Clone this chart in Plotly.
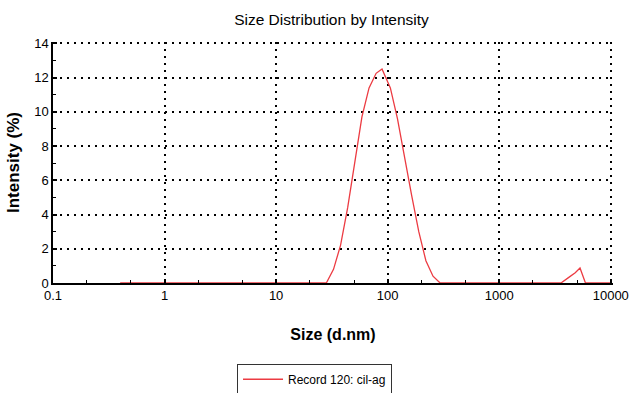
import plotly.graph_objects as go

# Data
size_nm = [0.4, 1.0, 10.0, 28.2, 32.7, 37.8, 43.8, 50.7, 58.8, 68.1, 78.8, 89.0, 105.7,
           122.4, 141.8, 164.2, 190.1, 220.2, 255.0, 295.3, 1000.0, 3580.0, 4145.0,
           4801.0, 5300.0, 5930.0, 10000.0]
intensity = [0.0, 0.0, 0.0, 0.0, 0.8, 2.2, 4.4, 6.9, 9.7, 11.4, 12.25, 12.5, 11.4,
             9.6, 7.3, 5.1, 3.0, 1.3, 0.4, 0.0, 0.0, 0.0, 0.3,
             0.6, 0.88, 0.0, 0.0]
x_ticks = [0.1, 1, 10, 100, 1000, 10000]
x_ticktext = ["0.1", "1", "10", "100", "1000", "10000"]
y_ticks = [0, 2, 4, 6, 8, 10, 12, 14]

FONT = "Liberation Sans Narrow, Liberation Sans, Arial, sans-serif"

fig = go.Figure()
fig.add_trace(go.Scatter(
    x=size_nm, y=intensity, mode="lines",
    line=dict(color="#ec3b42", width=1.3),
    name="Record 120: cil-ag", showlegend=True,
))

fig.update_layout(
    width=629, height=393,
    margin=dict(l=53, r=16, t=42, b=110, autoexpand=False),
    paper_bgcolor="white", plot_bgcolor="white",
    font=dict(family=FONT, color="black", size=13),
    title=dict(text="Size Distribution by Intensity", x=0.527, xanchor="center",
               y=0.95, yanchor="middle", font=dict(size=15.5, family=FONT)),
    showlegend=True,
    legend=dict(x=0.467, xanchor="center", y=-0.335, yanchor="top",
                bordercolor="#333333", borderwidth=1, bgcolor="white",
                font=dict(size=12, family=FONT), itemwidth=40,
                tracegroupgap=0),
)

fig.update_xaxes(
    type="log", range=[-1, 4.02],
    tickvals=x_ticks, ticktext=x_ticktext, ticklabeloverflow="allow",
    showline=True, linecolor="black", linewidth=1.5,
    ticks="inside", ticklen=4, tickcolor="black", tickwidth=1.5,
    showgrid=True, gridcolor="black", gridwidth=1.5, griddash="2px,5px",
    minor=dict(ticks="inside", ticklen=3, tickcolor="black", tickwidth=1.3, showgrid=False),
    zeroline=False,
    tickfont=dict(size=13, family=FONT),
    title=dict(text="<b>Size (d.nm)</b>", font=dict(size=16, family=FONT), standoff=26),
)
fig.update_yaxes(
    range=[0, 14.08], tickvals=y_ticks,
    showline=True, linecolor="black", linewidth=1.5,
    ticks="inside", ticklen=4, tickcolor="black", tickwidth=1.5,
    showgrid=True, gridcolor="black", gridwidth=1.5, griddash="2px,5px",
    minor=dict(dtick=1, tick0=0, ticks="inside", ticklen=3, tickcolor="black",
               tickwidth=1.3, showgrid=False),
    zeroline=False,
    tickfont=dict(size=13, family=FONT),
    title=dict(text="<b>Intensity (%)</b>", font=dict(size=17, family=FONT), standoff=10),
)

fig.write_html("out.html")
